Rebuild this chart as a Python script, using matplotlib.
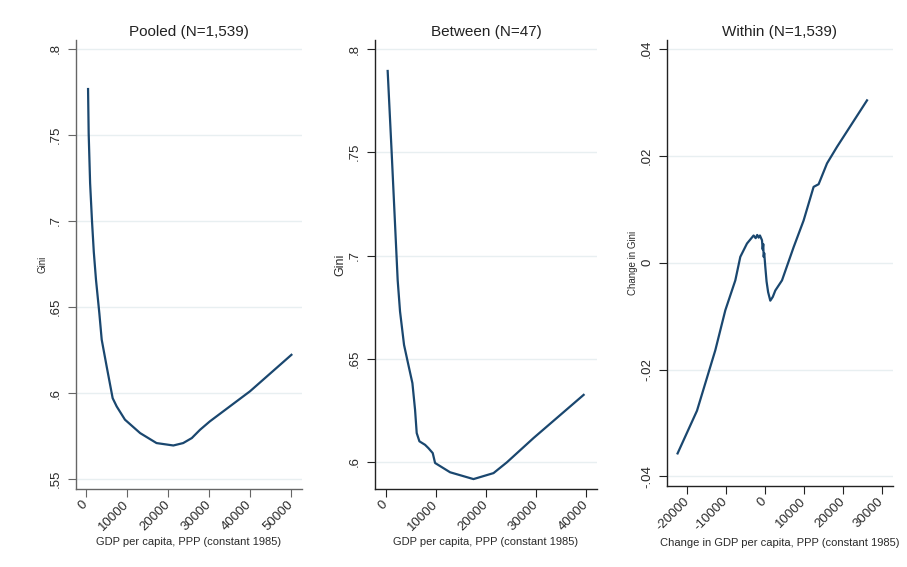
import matplotlib.pyplot as plt

plt.rcParams["font.family"] = ["Liberation Sans", "DejaVu Sans"]

LINE_COLOR = "#1a476f"
GRID_COLOR = "#e8eff1"
TEXT_COLOR = "#2a2a2a"

# Pooled: Gini against GDP per capita
pooled_gdp = [500, 650, 1000, 1460, 1900, 2440, 3250, 3830, 5040, 6500, 7480, 9500,
              13200, 17200, 21300, 23700, 25800, 27800, 30200, 40000, 50100]
pooled_gini = [0.7767, 0.751, 0.722, 0.700, 0.682, 0.6657, 0.6464, 0.631, 0.6154,
               0.597, 0.5922, 0.5845, 0.5767, 0.5709, 0.5695, 0.5709, 0.5738, 0.5786,
               0.5835, 0.601, 0.6222]

# Between: country means
between_gdp = [330, 1130, 2330, 2800, 3600, 4470, 5270, 5800, 6130, 6670, 7800,
               8470, 9330, 9800, 12800, 17470, 21470, 24130, 29470, 39470]
between_gini = [0.7894, 0.7498, 0.688, 0.6729, 0.6567, 0.647, 0.6382, 0.6253, 0.614,
                0.610, 0.6083, 0.6067, 0.6043, 0.5995, 0.595, 0.5917, 0.5946, 0.5998,
                0.6116, 0.6325]

# Within: changes over time
within_gdp = [-22470, -17480, -12780, -10200, -7630, -6350, -4630, -2930, -2400,
              -2000, -1630, -1300, -1000, -770, -600, -450, -340, -200, 80, 400,
              800, 1360, 2000, 2650, 4370, 7350, 9920, 12490, 13780, 15940, 18510, 26220]
within_chg = [-0.0357, -0.0277, -0.0164, -0.0089, -0.0033, 0.0011, 0.0036, 0.0051,
              0.0046, 0.0052, 0.0047, 0.0051, 0.0046, 0.0042, 0.0025, 0.0035, 0.0011,
              0.0018, -0.0008, -0.0035, -0.0055, -0.0071, -0.0064, -0.0052, -0.0033,
              0.0029, 0.0079, 0.0142, 0.0147, 0.0186, 0.0217, 0.0304]

panels = [
    dict(x=pooled_gdp, y=pooled_gini, title="Pooled (N=1,539)", ylabel="Gini", ylsize=7,
         xlabel="GDP per capita, PPP (constant 1985)",
         xticks=[0, 10000, 20000, 30000, 40000, 50000], xlim=(-2440, 52680),
         yticks=[0.55, 0.6, 0.65, 0.7, 0.75, 0.8],
         ylabels=[".55", ".6", ".65", ".7", ".75", ".8"], ylim=(0.5442, 0.8052),
         rect=[76, 40, 302, 489], spine="#666666"),
    dict(x=between_gdp, y=between_gini, title="Between (N=47)", ylabel="Gini", ylsize=9,
         xlabel="GDP per capita, PPP (constant 1985)",
         xticks=[0, 10000, 20000, 30000, 40000], xlim=(-2200, 42140),
         yticks=[0.6, 0.65, 0.7, 0.75, 0.8],
         ylabels=[".6", ".65", ".7", ".75", ".8"], ylim=(0.5869, 0.8044),
         rect=[375, 40, 597, 489], spine="#222222"),
    dict(x=within_gdp, y=within_chg, title="Within (N=1,539)", ylabel="Change in Gini",
         ylsize=7, xlabel="Change in GDP per capita, PPP (constant 1985)",
         xticks=[-20000, -10000, 0, 10000, 20000, 30000], xlim=(-25190, 32900),
         yticks=[-0.04, -0.02, 0, 0.02, 0.04],
         ylabels=["-.04", "-.02", "0", ".02", ".04"], ylim=(-0.0418, 0.0417),
         rect=[667, 40, 893, 486], spine="#222222"),
]

W, H = 907, 567
fig = plt.figure(figsize=(W / 100, H / 100), dpi=100)
fig.patch.set_facecolor("white")

for p in panels:
    l, t, r, b = p["rect"]
    ax = fig.add_axes([l / W, 1 - b / H, (r - l) / W, (b - t) / H])
    ax.plot(p["x"], p["y"], color=LINE_COLOR, lw=1.6, solid_joinstyle="round")
    ax.set_xlim(*p["xlim"])
    ax.set_ylim(*p["ylim"])
    ax.set_xticks(p["xticks"])
    ax.set_xticklabels([str(v) for v in p["xticks"]], rotation=45, ha="right",
                       va="center", rotation_mode="anchor", fontsize=9.5,
                       color=TEXT_COLOR)
    ax.set_yticks(p["yticks"])
    ax.set_yticklabels(p["ylabels"], rotation=90, va="center", fontsize=9.5,
                       color=TEXT_COLOR)
    ax.grid(axis="y", color=GRID_COLOR, lw=1)
    ax.set_axisbelow(True)
    for s in ("top", "right"):
        ax.spines[s].set_visible(False)
    for s in ("left", "bottom"):
        ax.spines[s].set_color(p["spine"])
        ax.spines[s].set_linewidth(1)
    ax.tick_params(length=6, color=p["spine"])
    ax.tick_params(axis="x", pad=4)
    ax.tick_params(axis="y", pad=4)
    ax.set_title(p["title"], fontsize=11, color="#222222", pad=3)
    ax.set_xlabel(p["xlabel"], fontsize=8, color=TEXT_COLOR, labelpad=3)
    ax.set_ylabel(p["ylabel"], fontsize=p["ylsize"], color=TEXT_COLOR, labelpad=2)

fig.savefig("out.png", dpi=100, facecolor="white")
